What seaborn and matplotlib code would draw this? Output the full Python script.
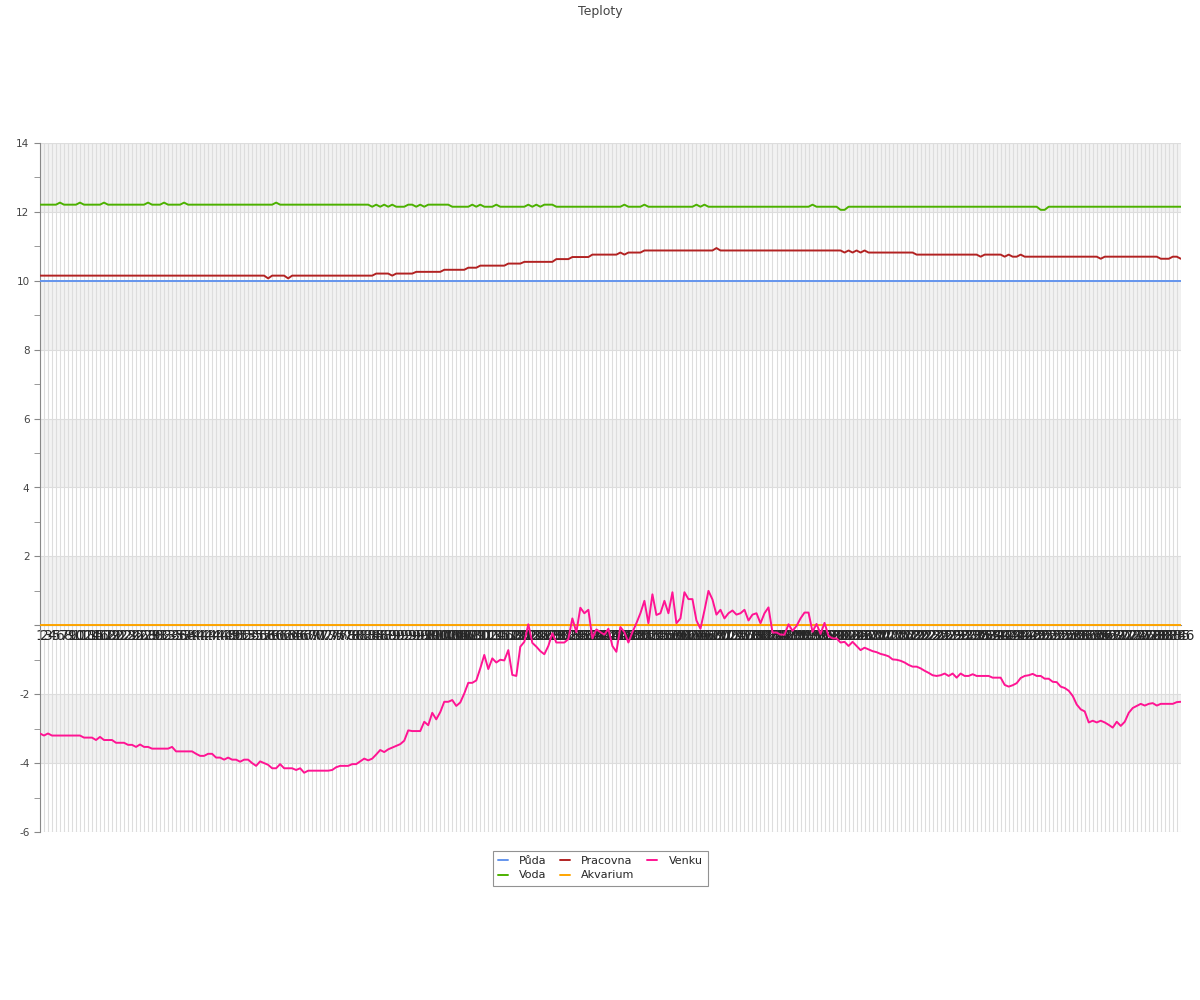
import seaborn as sns
import matplotlib.pyplot as plt
import pandas as pd
import numpy as np

# hodnoty (286 mereni)
n_points = 286
labels = [str(i + 1) for i in range(n_points)]

puda = [10.0] * n_points
akvarium = [0.0] * n_points

voda = [
    12.21, 12.21, 12.21, 12.21, 12.21, 12.27, 12.21, 12.21, 12.21, 12.21,
    12.27, 12.21, 12.21, 12.21, 12.21, 12.21, 12.27, 12.21, 12.21, 12.21,
    12.21, 12.21, 12.21, 12.21, 12.21, 12.21, 12.21, 12.27, 12.21, 12.21,
    12.21, 12.27, 12.21, 12.21, 12.21, 12.21, 12.27, 12.21, 12.21, 12.21,
    12.21, 12.21, 12.21, 12.21, 12.21, 12.21, 12.21, 12.21, 12.21, 12.21,
    12.21, 12.21, 12.21, 12.21, 12.21, 12.21, 12.21, 12.21, 12.21, 12.27,
    12.21, 12.21, 12.21, 12.21, 12.21, 12.21, 12.21, 12.21, 12.21, 12.21,
    12.21, 12.21, 12.21, 12.21, 12.21, 12.21, 12.21, 12.21, 12.21, 12.21,
    12.21, 12.21, 12.21, 12.15, 12.21, 12.15, 12.21, 12.15, 12.21, 12.15,
    12.15, 12.15, 12.21, 12.21, 12.15, 12.21, 12.15, 12.21, 12.21, 12.21,
    12.21, 12.21, 12.21, 12.15, 12.15, 12.15, 12.15, 12.15, 12.21, 12.15,
    12.21, 12.15, 12.15, 12.15, 12.21, 12.15, 12.15, 12.15, 12.15, 12.15,
    12.15, 12.15, 12.21, 12.15, 12.21, 12.15, 12.21, 12.21, 12.21, 12.15,
    12.15, 12.15, 12.15, 12.15, 12.15, 12.15, 12.15, 12.15, 12.15, 12.15,
    12.15, 12.15, 12.15, 12.15, 12.15, 12.15, 12.21, 12.15, 12.15, 12.15,
    12.15, 12.21, 12.15, 12.15, 12.15, 12.15, 12.15, 12.15, 12.15, 12.15,
    12.15, 12.15, 12.15, 12.15, 12.21, 12.15, 12.21, 12.15, 12.15, 12.15,
    12.15, 12.15, 12.15, 12.15, 12.15, 12.15, 12.15, 12.15, 12.15, 12.15,
    12.15, 12.15, 12.15, 12.15, 12.15, 12.15, 12.15, 12.15, 12.15, 12.15,
    12.15, 12.15, 12.15, 12.21, 12.15, 12.15, 12.15, 12.15, 12.15, 12.15,
    12.06, 12.06, 12.15, 12.15, 12.15, 12.15, 12.15, 12.15, 12.15, 12.15,
    12.15, 12.15, 12.15, 12.15, 12.15, 12.15, 12.15, 12.15, 12.15, 12.15,
    12.15, 12.15, 12.15, 12.15, 12.15, 12.15, 12.15, 12.15, 12.15, 12.15,
    12.15, 12.15, 12.15, 12.15, 12.15, 12.15, 12.15, 12.15, 12.15, 12.15,
    12.15, 12.15, 12.15, 12.15, 12.15, 12.15, 12.15, 12.15, 12.15, 12.15,
    12.06, 12.06, 12.15, 12.15, 12.15, 12.15, 12.15, 12.15, 12.15, 12.15,
    12.15, 12.15, 12.15, 12.15, 12.15, 12.15, 12.15, 12.15, 12.15, 12.15,
    12.15, 12.15, 12.15, 12.15, 12.15, 12.15, 12.15, 12.15, 12.15, 12.15,
    12.15, 12.15, 12.15, 12.15, 12.15, 12.15,
]

pracovna = [
    10.15, 10.15, 10.15, 10.15, 10.15, 10.15, 10.15, 10.15, 10.15, 10.15,
    10.15, 10.15, 10.15, 10.15, 10.15, 10.15, 10.15, 10.15, 10.15, 10.15,
    10.15, 10.15, 10.15, 10.15, 10.15, 10.15, 10.15, 10.15, 10.15, 10.15,
    10.15, 10.15, 10.15, 10.15, 10.15, 10.15, 10.15, 10.15, 10.15, 10.15,
    10.15, 10.15, 10.15, 10.15, 10.15, 10.15, 10.15, 10.15, 10.15, 10.15,
    10.15, 10.15, 10.15, 10.15, 10.15, 10.15, 10.15, 10.07, 10.15, 10.15,
    10.15, 10.15, 10.07, 10.15, 10.15, 10.15, 10.15, 10.15, 10.15, 10.15,
    10.15, 10.15, 10.15, 10.15, 10.15, 10.15, 10.15, 10.15, 10.15, 10.15,
    10.15, 10.15, 10.15, 10.15, 10.21, 10.21, 10.21, 10.21, 10.15, 10.21,
    10.21, 10.21, 10.21, 10.21, 10.26, 10.26, 10.26, 10.26, 10.26, 10.26,
    10.26, 10.32, 10.32, 10.32, 10.32, 10.32, 10.32, 10.38, 10.38, 10.38,
    10.44, 10.44, 10.44, 10.44, 10.44, 10.44, 10.44, 10.50, 10.50, 10.50,
    10.50, 10.55, 10.55, 10.55, 10.55, 10.55, 10.55, 10.55, 10.55, 10.63,
    10.63, 10.63, 10.63, 10.69, 10.69, 10.69, 10.69, 10.69, 10.76, 10.76,
    10.76, 10.76, 10.76, 10.76, 10.76, 10.82, 10.76, 10.82, 10.82, 10.82,
    10.82, 10.88, 10.88, 10.88, 10.88, 10.88, 10.88, 10.88, 10.88, 10.88,
    10.88, 10.88, 10.88, 10.88, 10.88, 10.88, 10.88, 10.88, 10.88, 10.95,
    10.88, 10.88, 10.88, 10.88, 10.88, 10.88, 10.88, 10.88, 10.88, 10.88,
    10.88, 10.88, 10.88, 10.88, 10.88, 10.88, 10.88, 10.88, 10.88, 10.88,
    10.88, 10.88, 10.88, 10.88, 10.88, 10.88, 10.88, 10.88, 10.88, 10.88,
    10.88, 10.82, 10.88, 10.82, 10.88, 10.82, 10.88, 10.82, 10.82, 10.82,
    10.82, 10.82, 10.82, 10.82, 10.82, 10.82, 10.82, 10.82, 10.82, 10.76,
    10.76, 10.76, 10.76, 10.76, 10.76, 10.76, 10.76, 10.76, 10.76, 10.76,
    10.76, 10.76, 10.76, 10.76, 10.76, 10.70, 10.76, 10.76, 10.76, 10.76,
    10.76, 10.70, 10.76, 10.70, 10.70, 10.76, 10.70, 10.70, 10.70, 10.70,
    10.70, 10.70, 10.70, 10.70, 10.70, 10.70, 10.70, 10.70, 10.70, 10.70,
    10.70, 10.70, 10.70, 10.70, 10.70, 10.64, 10.70, 10.70, 10.70, 10.70,
    10.70, 10.70, 10.70, 10.70, 10.70, 10.70, 10.70, 10.70, 10.70, 10.70,
    10.64, 10.64, 10.64, 10.70, 10.70, 10.64,
]

venku = [
    -3.14, -3.20, -3.14, -3.20, -3.20, -3.20, -3.20, -3.20, -3.20, -3.20,
    -3.20, -3.26, -3.26, -3.26, -3.33, -3.24, -3.33, -3.33, -3.33, -3.41,
    -3.41, -3.41, -3.47, -3.47, -3.53, -3.46, -3.53, -3.53, -3.58, -3.58,
    -3.58, -3.58, -3.58, -3.53, -3.66, -3.66, -3.66, -3.66, -3.66, -3.73,
    -3.79, -3.79, -3.73, -3.73, -3.84, -3.84, -3.90, -3.84, -3.90, -3.90,
    -3.96, -3.90, -3.90, -4.00, -4.08, -3.95, -4.00, -4.05, -4.15, -4.15,
    -4.03, -4.15, -4.15, -4.15, -4.20, -4.15, -4.28, -4.22, -4.22, -4.22,
    -4.22, -4.22, -4.22, -4.20, -4.12, -4.08, -4.08, -4.08, -4.03, -4.03,
    -3.95, -3.87, -3.92, -3.87, -3.75, -3.62, -3.68, -3.60, -3.55, -3.50,
    -3.45, -3.35, -3.05, -3.07, -3.07, -3.07, -2.80, -2.90, -2.54, -2.73,
    -2.52, -2.22, -2.22, -2.17, -2.34, -2.24, -1.98, -1.67, -1.67, -1.60,
    -1.25, -0.86, -1.27, -0.96, -1.08, -1.00, -1.02, -0.72, -1.44, -1.47,
    -0.62, -0.48, 0.03, -0.51, -0.62, -0.75, -0.84, -0.60, -0.23, -0.50,
    -0.50, -0.50, -0.40, 0.20, -0.20, 0.51, 0.35, 0.45, -0.38, -0.12,
    -0.20, -0.27, -0.10, -0.60, -0.77, -0.05, -0.20, -0.50, -0.20, 0.06,
    0.35, 0.71, 0.06, 0.90, 0.30, 0.35, 0.71, 0.35, 0.96, 0.06,
    0.20, 0.96, 0.76, 0.76, 0.14, -0.10, 0.43, 1.00, 0.75, 0.31,
    0.45, 0.20, 0.35, 0.43, 0.31, 0.35, 0.45, 0.14, 0.31, 0.35,
    0.06, 0.35, 0.52, -0.21, -0.21, -0.27, -0.27, 0.03, -0.16, -0.02,
    0.20, 0.37, 0.37, -0.19, 0.04, -0.25, 0.07, -0.31, -0.38, -0.38,
    -0.50, -0.48, -0.60, -0.48, -0.60, -0.72, -0.65, -0.70, -0.75, -0.78,
    -0.83, -0.86, -0.90, -0.99, -1.00, -1.03, -1.08, -1.15, -1.20, -1.20,
    -1.25, -1.32, -1.38, -1.45, -1.47, -1.45, -1.40, -1.47, -1.40, -1.52,
    -1.40, -1.47, -1.47, -1.42, -1.47, -1.47, -1.47, -1.47, -1.52, -1.52,
    -1.52, -1.73, -1.78, -1.74, -1.68, -1.53, -1.47, -1.45, -1.41, -1.47,
    -1.47, -1.55, -1.55, -1.64, -1.65, -1.78, -1.82, -1.90, -2.05, -2.30,
    -2.44, -2.50, -2.82, -2.77, -2.82, -2.77, -2.82, -2.89, -2.97, -2.80,
    -2.92, -2.80, -2.54, -2.40, -2.34, -2.28, -2.33, -2.28, -2.26, -2.33,
    -2.28, -2.28, -2.28, -2.28, -2.23, -2.22,
]

series_names = ['Půda', 'Voda', 'Pracovna', 'Akvarium', 'Venku']
series_values = [puda, voda, pracovna, akvarium, venku]
colors = ['#6495ed', '#4cb100', '#b22222', '#ffa500', '#ff1493']

sns.set_style("white")
plt.rcParams['font.family'] = ['DejaVu Sans']

fig, ax = plt.subplots(figsize=(12, 10), dpi=100)
fig.subplots_adjust(left=0.0333, right=0.984, top=0.857, bottom=0.168)

# sede pruhy
for lo in [12, 8, 4, 0, -4]:
    ax.axhspan(lo, lo + 2, color='#f2f2f2', lw=0, zorder=0)

x = np.arange(n_points)
for name, vals, col in zip(series_names, series_values, colors):
    sns.lineplot(x=x, y=vals, color=col, linewidth=1.4, label=name, ax=ax, zorder=3)

ax.set_xlim(0, n_points - 1)
ax.set_ylim(-6, 14)
ax.set_xticks(x)
ax.set_xticklabels(labels, fontsize=7.5, color='#444444')
yt = list(range(-6, 15, 2))
ax.set_yticks(yt)
ax.set_yticklabels(['' if v == 0 else str(v) for v in yt], fontsize=7.5, color='#444444')
ax.set_yticks(list(range(-5, 14, 2)), minor=True)
ax.set_xlabel('')
ax.set_ylabel('')

ax.set_axisbelow(True)
ax.grid(axis='x', color='#dddddd', lw=0.8)
ax.grid(axis='y', which='major', color='#dddddd', lw=0.8)

ax.tick_params(axis='x', length=0, pad=3)
ax.tick_params(axis='y', which='both', length=4, color='#888888', direction='out', left=True)

for s in ['top', 'right']:
    ax.spines[s].set_visible(False)
ax.spines['left'].set_color('#888888')
ax.spines['left'].set_linewidth(0.8)
ax.spines['bottom'].set_position(('data', 0))
ax.spines['bottom'].set_color('#888888')
ax.spines['bottom'].set_linewidth(0.8)

fig.text(0.5, 0.989, 'Teploty', ha='center', va='center', fontsize=9, color='#444444')

handles, lbls = ax.get_legend_handles_labels()
ax.legend_.remove()
leg = fig.legend(handles, lbls, loc='center', bbox_to_anchor=(0.5, 0.132), ncol=3,
                 fontsize=8, frameon=True, fancybox=False, edgecolor='#777777',
                 handlelength=0.9, handletextpad=1.0, columnspacing=1.2,
                 labelspacing=0.45, borderpad=0.45)
leg.get_frame().set_linewidth(0.8)

fig.savefig('out.png', dpi=100)
